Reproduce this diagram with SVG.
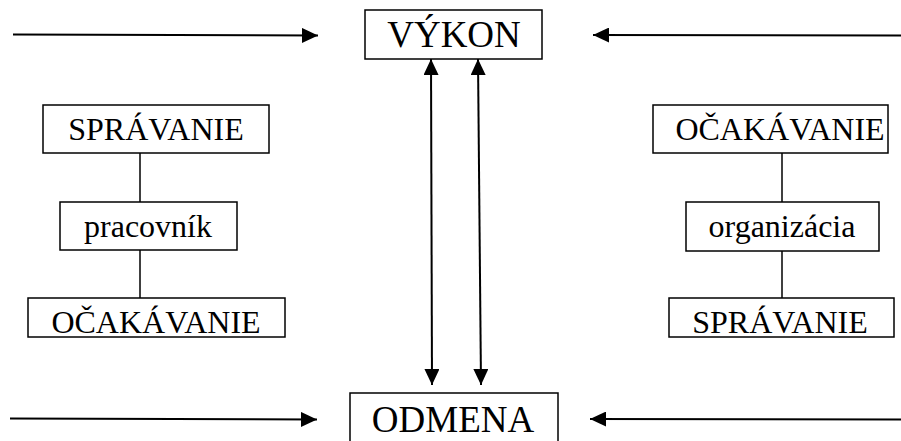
<svg xmlns="http://www.w3.org/2000/svg" width="901" height="441" viewBox="0 0 901 441">
  <style>
    .box { fill: #fff; stroke: #000; stroke-width: 1.5; }
    .lbl { fill: #000; text-anchor: middle; }
    .big { font-size: 37px; }
    .mid { font-size: 32px; }
    .wire { stroke: #000; stroke-width: 1.5; fill: none; }
    .arrow { stroke: #000; stroke-width: 2; fill: none; marker-end: url(#head); }
    .arrow2 { stroke: #000; stroke-width: 2; fill: none; marker-start: url(#headStart); marker-end: url(#head); }
  </style>
  <defs>
    <marker id="head" viewBox="0 0 16 15" refX="16" refY="7.5" markerWidth="16" markerHeight="15" markerUnits="userSpaceOnUse" orient="auto">
      <path d="M0,0 L16,7.5 L0,15 Z" fill="#000"/>
    </marker>
    <marker id="headStart" viewBox="0 0 16 15" refX="0" refY="7.5" markerWidth="16" markerHeight="15" markerUnits="userSpaceOnUse" orient="auto">
      <path d="M16,0 L0,7.5 L16,15 Z" fill="#000"/>
    </marker>
  </defs>

  <!-- connectors -->
  <g id="connectors">
    <line class="arrow" x1="13" y1="34.5" x2="318" y2="35.5"/>
    <line class="arrow" x1="901" y1="35.5" x2="593" y2="35"/>
    <line class="arrow" x1="10" y1="418.5" x2="317" y2="419.5"/>
    <line class="arrow" x1="901" y1="419.5" x2="590" y2="419"/>
    <line class="arrow2" x1="431" y1="59" x2="432" y2="385"/>
    <line class="arrow2" x1="478" y1="59" x2="481" y2="385"/>
    <line class="wire" x1="140" y1="153" x2="140" y2="202"/>
    <line class="wire" x1="140" y1="250" x2="140" y2="298"/>
    <line class="wire" x1="782" y1="153" x2="782" y2="202"/>
    <line class="wire" x1="782" y1="251" x2="782" y2="298"/>
  </g>

  <g font-family="Liberation Serif, Times New Roman, serif">
    <g id="vykon">
      <rect class="box" x="365" y="10" width="177" height="49"/>
      <text class="lbl big" x="454" y="47">VÝKON</text>
    </g>
    <g id="odmena">
      <rect class="box" x="350" y="393" width="208" height="60"/>
      <text class="lbl big" x="453" y="432">ODMENA</text>
    </g>

    <g id="spravanie-left">
      <rect class="box" x="43" y="105" width="226" height="48"/>
      <text class="lbl mid" x="156" y="140">SPRÁVANIE</text>
    </g>
    <g id="pracovnik">
      <rect class="box" x="60" y="202" width="177" height="48"/>
      <text class="lbl mid" x="148" y="237">pracovník</text>
    </g>
    <g id="ocakavanie-left">
      <rect class="box" x="28" y="298" width="257" height="39"/>
      <text class="lbl mid" x="156" y="333">OČAKÁVANIE</text>
    </g>

    <g id="ocakavanie-right">
      <rect class="box" x="653" y="105" width="235" height="48"/>
      <text class="lbl mid" x="780" y="140">OČAKÁVANIE</text>
    </g>
    <g id="organizacia">
      <rect class="box" x="686" y="202" width="193" height="49"/>
      <text class="lbl mid" x="782" y="237">organizácia</text>
    </g>
    <g id="spravanie-right">
      <rect class="box" x="669" y="298" width="225" height="39"/>
      <text class="lbl mid" x="780" y="333">SPRÁVANIE</text>
    </g>
  </g>
</svg>
